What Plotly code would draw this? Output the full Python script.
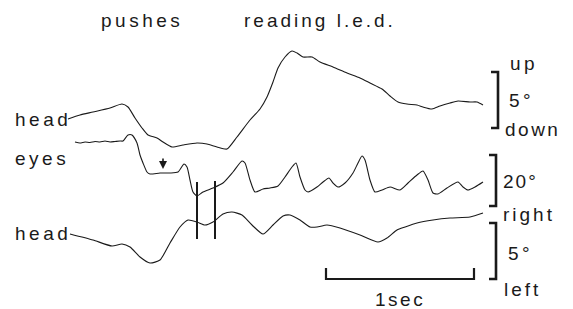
import plotly.graph_objects as go

# Traces sampled from the figure (x: time axis units, y: vertical position units, top = 0)
head_v_x = [68, 80, 93, 110, 122, 128, 135, 142, 148, 157, 163, 172, 183, 197, 207, 217, 227,
            237, 250, 260, 267, 273, 278, 285, 292, 297, 303, 312, 320, 333, 347, 360, 370,
            382, 390, 398, 407, 417, 423, 432, 440, 450, 458, 470, 477, 483]
head_v_y = [119, 115, 112, 108, 104, 107, 118, 128, 135, 138, 142, 147, 145, 143, 144, 147, 149,
            137, 120, 109, 97, 82, 68, 57, 51, 53, 57, 57, 62, 67, 73, 78, 83,
            89, 96, 102, 104, 105, 107, 109, 106, 103, 101, 102, 102, 105]

eyes_x = [75, 80, 85, 90, 95, 100, 105, 110, 115, 120, 123, 128, 132, 137, 140, 143, 147, 150,
          160, 170, 178, 184, 187, 190, 193, 197, 203, 213, 223, 233, 242, 245, 250, 255,
          263, 270, 278, 285, 292, 296, 300, 305, 308, 317, 323, 329, 333, 338, 345, 353,
          358, 362, 365, 370, 375, 382, 390, 400, 408, 417, 423, 428, 433, 438, 447, 458,
          463, 468, 475, 483]
eyes_y = [142, 143, 142, 142.5, 141.5, 142, 141, 142, 141.5, 141, 141, 135, 135, 143, 155, 163,
          172, 174, 173, 173, 172, 164, 167, 180, 192, 196, 192, 188, 183, 172, 161, 163, 180,
          192, 189, 188, 186, 177, 167, 163, 177, 190, 192, 187, 182, 178, 183, 187, 183, 173,
          163, 156, 160, 180, 192, 190, 187, 190, 183, 175, 171, 180, 193, 194, 188, 182,
          187, 190, 187, 182]

head_h_x = [70, 93, 112, 122, 130, 140, 150, 160, 170, 180, 188, 197, 205, 213, 223, 232,
            242, 252, 263, 273, 283, 290, 300, 310, 317, 327, 340, 360, 378, 387, 397, 405,
            417, 433, 450, 470, 483]
head_h_y = [234, 240, 246, 244, 247, 257, 263, 260, 243, 227, 220, 222, 225, 222, 214, 212,
            215, 225, 234, 225, 216, 215, 220, 227, 227, 225, 228, 235, 242, 238, 230, 227,
            223, 220, 218, 217, 213]

marker_x = [197, 215]
marker_top = [182, 181]
marker_bottom = [239, 239]

labels_left = ["head", "eyes", "head"]
labels_left_y = [119, 158, 233]

INK = "#1a1a1a"
FONT = "Liberation Sans, Arial, Helvetica, sans-serif"


def spaced(t, s=3):
    return f'<span style="letter-spacing:{s}px">{t}</span>'


fig = go.Figure()
for xs, ys in [(head_v_x, head_v_y), (eyes_x, eyes_y), (head_h_x, head_h_y)]:
    fig.add_trace(go.Scatter(x=xs, y=ys, mode="lines",
                             line=dict(color=INK, width=1.1, shape="spline", smoothing=0.6),
                             hoverinfo="skip", showlegend=False))

shapes = []
for mx, t, b in zip(marker_x, marker_top, marker_bottom):
    shapes.append(dict(type="line", x0=mx, x1=mx, y0=t, y1=b,
                       line=dict(color=INK, width=2)))


def bracket(x, y0, y1, w=7):
    return dict(type="path", path=f"M {x-w},{y0} L {x},{y0} L {x},{y1} L {x-w},{y1}",
                line=dict(color=INK, width=2.6))


shapes.append(bracket(498, 72, 128))
shapes.append(bracket(496, 155, 206))
shapes.append(bracket(496, 223, 279))
shapes.append(dict(type="path", path="M 326,268 L 326,279 L 474,279 L 474,268",
                   line=dict(color=INK, width=2.2)))

annotations = []


def txt(x, y, t, anchor="left", size=19, s=3.5):
    annotations.append(dict(x=x, y=y, xref="x", yref="y", text=spaced(t, s),
                            showarrow=False, xanchor=anchor, yanchor="middle",
                            font=dict(family=FONT, size=size, color=INK)))


txt(142, 20, "pushes", "center")
txt(320, 20, "reading l.e.d.", "center", s=3)
for lab, ly in zip(labels_left, labels_left_y):
    txt(13, ly, lab, "left")
txt(508, 63, "up", "left")
txt(507, 100, "5°", "left")
txt(503, 129, "down", "left", s=2.5)
txt(501, 181, "20°", "left", s=2)
txt(501, 214, "right", "left", s=3)
txt(506, 253, "5°", "left")
txt(502, 289, "left", "left", s=3)
txt(400, 299, "1sec", "center", s=2.5)

annotations.append(dict(x=163, y=169, ax=163, ay=157, xref="x", yref="y", axref="x", ayref="y",
                        showarrow=True, arrowhead=2, arrowsize=1, arrowwidth=1.6,
                        arrowcolor=INK, text=""))

fig.update_layout(
    width=573, height=309, margin=dict(l=0, r=0, t=0, b=0),
    paper_bgcolor="white", plot_bgcolor="white",
    xaxis=dict(range=[0, 573], visible=False, fixedrange=True),
    yaxis=dict(range=[309, 0], visible=False, fixedrange=True),
    shapes=shapes, annotations=annotations,
)

fig.write_html("out.html", config={"displayModeBar": False},
               post_script="document.body.style.margin='0';document.body.style.overflow='hidden';")
